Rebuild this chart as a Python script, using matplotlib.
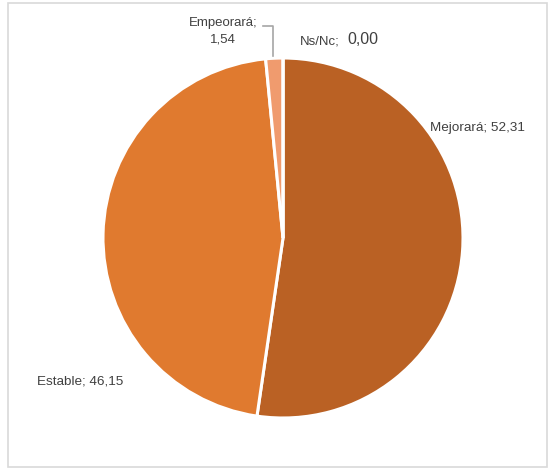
import matplotlib.pyplot as plt
from matplotlib.patches import Rectangle

# Datos
categorias = ["Mejorará", "Estable", "Empeorará", "Ns/Nc"]
valores = [52.31, 46.15, 1.54, 0.00]
colores = ["#BA6124", "#E07A2F", "#F09B6E", "#F5C09C"]

plt.rcParams["font.family"] = ["Liberation Sans", "DejaVu Sans"]

fig = plt.figure(figsize=(5.48, 4.74), dpi=100)

# marco gris del grafico
fig.patches.append(Rectangle((8 / 548, 7 / 474), 539 / 548, 464 / 474,
                             transform=fig.transFigure, fill=False,
                             edgecolor="#D9D9D9", linewidth=1.2))

ax = fig.add_axes([103 / 548, 56 / 474, 360 / 548, 360 / 474])
ax.pie(valores, colors=colores, startangle=90, counterclock=False,
       radius=1, wedgeprops=dict(edgecolor="white", linewidth=2.2))
ax.set_xlim(-1, 1)
ax.set_ylim(-1, 1)
ax.set_aspect("equal")
ax.axis("off")


def fmt(v):
    return f"{v:.2f}".replace(".", ",")


col_txt = "#404040"
fig.text(430 / 548, 1 - 128 / 474, f"{categorias[0]}; {fmt(valores[0])}",
         fontsize=9.7, color=col_txt, ha="left", va="center")
fig.text(37 / 548, 1 - 382 / 474, f"{categorias[1]}; {fmt(valores[1])}",
         fontsize=9.7, color=col_txt, ha="left", va="center")
fig.text(223 / 548, 1 - 31 / 474, f"{categorias[2]};\n{fmt(valores[2])}",
         fontsize=9.5, color=col_txt, ha="center", va="center",
         linespacing=1.55)
fig.text(300 / 548, 1 - 41 / 474, f"{categorias[3]};", fontsize=9.5,
         color=col_txt, ha="left", va="center")
fig.text(347 / 548, 1 - 40 / 474, fmt(valores[3]), fontsize=11.5,
         color=col_txt, ha="left", va="center")

# linea guia de Empeorará
fig.add_artist(plt.Line2D([263 / 548, 273 / 548, 273 / 548],
                          [1 - 26 / 474, 1 - 26 / 474, 1 - 56 / 474],
                          transform=fig.transFigure, color="#A6A6A6",
                          linewidth=1.2))

fig.savefig("out.png", dpi=100)
